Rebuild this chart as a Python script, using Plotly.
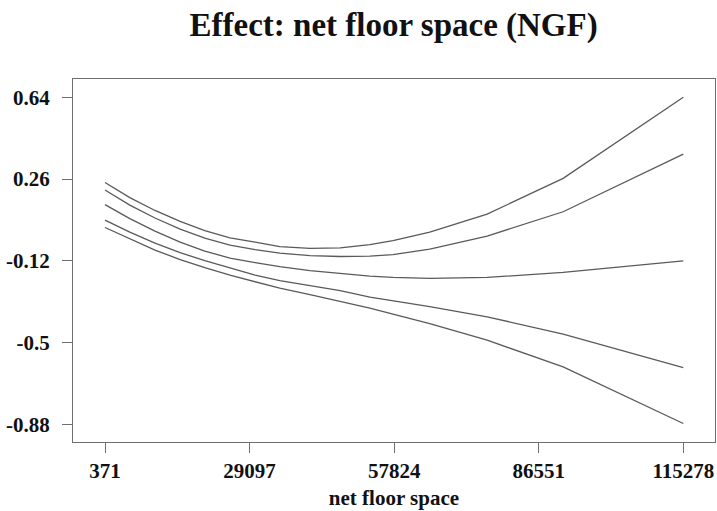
import plotly.graph_objects as go

# x positions (net floor space)
x_vals = [371, 5300, 10300, 15300, 20200, 25200, 30200, 35100, 41100, 47100,
          53000, 57600, 64900, 76300, 91400, 115278]

# five effect curves (upper band to lower band)
upper_outer = [0.244, 0.174, 0.114, 0.063, 0.020, -0.013, -0.033, -0.054, -0.062, -0.060,
               -0.045, -0.026, 0.013, 0.097, 0.263, 0.640]
upper_inner = [0.209, 0.139, 0.079, 0.027, -0.014, -0.047, -0.068, -0.084, -0.096, -0.100,
               -0.098, -0.091, -0.066, -0.005, 0.108, 0.376]
effect = [0.141, 0.076, 0.018, -0.033, -0.075, -0.107, -0.128, -0.147, -0.166, -0.180,
          -0.191, -0.197, -0.202, -0.197, -0.174, -0.120]
lower_inner = [0.069, 0.013, -0.038, -0.082, -0.119, -0.152, -0.187, -0.212, -0.235, -0.259,
               -0.289, -0.305, -0.333, -0.380, -0.461, -0.616]
lower_outer = [0.035, -0.019, -0.070, -0.114, -0.152, -0.187, -0.219, -0.247, -0.277, -0.307,
               -0.340, -0.368, -0.412, -0.489, -0.613, -0.876]

x_ticks = [371, 29097, 57824, 86551, 115278]
x_ticktext = ["371", "29097", "57824", "86551", "115278"]
y_ticks = [0.64, 0.26, -0.12, -0.5, -0.88]
y_ticktext = ["0.64", "0.26", "-0.12", "-0.5", "-0.88"]

fig = go.Figure()
for ys in [upper_outer, upper_inner, effect, lower_inner, lower_outer]:
    fig.add_trace(go.Scatter(x=x_vals, y=ys, mode="lines",
                             line=dict(color="#5a5a5a", width=1.3),
                             showlegend=False, hoverinfo="skip"))

font_family = "Liberation Serif, Times New Roman, serif"
axis_common = dict(showline=True, mirror=True, linecolor="#6f6f6f", linewidth=1.3,
                   ticks="outside", ticklen=10, tickwidth=1.3, tickcolor="#6f6f6f",
                   showgrid=False, zeroline=False, automargin=False,
                   tickfont=dict(family=font_family, size=21, color="#111111", weight="bold"))

fig.update_layout(
    width=717, height=511,
    margin=dict(l=73, r=2, t=79, b=69),
    paper_bgcolor="white", plot_bgcolor="white",
    title=dict(text="Effect: net floor space (NGF)", x=0.549, xanchor="center",
               xref="container", yref="container", y=(511 - 24) / 511, yanchor="middle",
               font=dict(family=font_family, size=33, color="#111111", weight="bold")),
    xaxis=dict(range=[-5987, 121576], tickvals=x_ticks, ticktext=x_ticktext,
               title=dict(text="net floor space", standoff=7,
                          font=dict(family=font_family, size=21, color="#111111", weight="bold")),
               ticklabelstandoff=0, **axis_common),
    yaxis=dict(range=[-0.962, 0.725], tickvals=y_ticks, ticktext=y_ticktext,
               ticklabelstandoff=8, **axis_common),
)

fig.write_html("out.html", config={"displayModeBar": False},
               post_script="document.body.style.margin='0';document.body.style.padding='0';")
